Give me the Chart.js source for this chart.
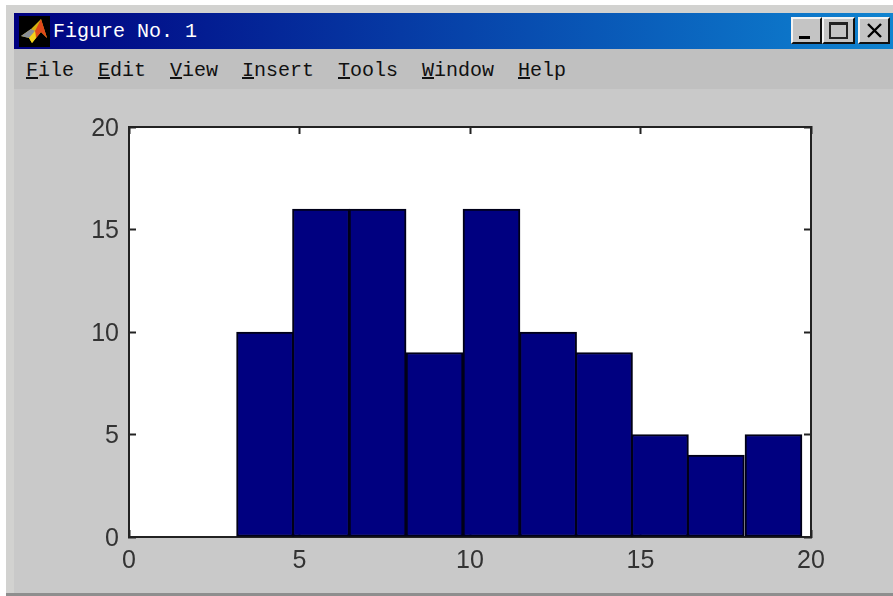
<!DOCTYPE html>
<html>
<head>
<meta charset="utf-8">
<script src="https://cdn.jsdelivr.net/npm/chart.js@4"></script>
<style>
html,body{margin:0;padding:0;background:#fff;overflow:hidden}
#win{position:absolute;left:0;top:0;width:893px;height:596px;overflow:hidden;background:#fff;filter:blur(.55px)}
#win div,#win svg,#win canvas{position:absolute}
#frame{left:6px;top:5px;width:887px;height:588px;background:#d2d2d0}
#bottom{left:6px;top:593px;width:887px;height:3px;background:#8e8e8e}
#fig{left:14px;top:89px;width:879px;height:504px;background:#c9c9c9}
#menu{left:14px;top:49px;width:879px;height:40px;background:#c0c0c0}
#title{left:14px;top:13px;width:879px;height:36px;background:linear-gradient(90deg,#000080 0%,#0c74c8 88%,#1084d0 100%)}
.t{font:bold 20px/24px "Liberation Mono",monospace;white-space:pre}
#ttext{left:53px;top:20px;color:#fff;font-weight:normal}
.m{top:59px;color:#111;font-weight:normal}
.b{top:17px;height:27px;background:#c4c4c4;box-sizing:border-box;border:2px solid;border-color:#f4f4f4 #111 #111 #f4f4f4}
#chart{left:0;top:0;width:893px;height:596px}
</style>
</head>
<body>
<div id="win">
  <div id="frame"></div>
  <div id="fig"></div>
  <div id="menu"></div>
  <div id="title"></div>
  <svg style="left:19px;top:16px" width="31" height="31" viewBox="0 0 31 31">
    <rect width="31" height="31" fill="#000"/>
    <polygon points="2,20 12,13 22,3 28,22 22,16 13,27 10,22" fill="#d4b010"/>
    <polygon points="2,20 12,13 16,15 10,22" fill="#8a8f98"/>
    <polygon points="16,15 22,3 28,22 22,16 17,22" fill="#e0481a"/>
    <polygon points="10,22 16,15 17,22 13,27" fill="#f2d21c"/>
  </svg>
  <div id="ttext" class="t">Figure No. 1</div>
  <div class="t m" style="left:26px"><u>F</u>ile</div>
  <div class="t m" style="left:98px"><u>E</u>dit</div>
  <div class="t m" style="left:170px"><u>V</u>iew</div>
  <div class="t m" style="left:242px"><u>I</u>nsert</div>
  <div class="t m" style="left:338px"><u>T</u>ools</div>
  <div class="t m" style="left:422px"><u>W</u>indow</div>
  <div class="t m" style="left:518px"><u>H</u>elp</div>
  <div class="b" style="left:791px;width:31px"></div>
  <div class="b" style="left:822px;width:33px"></div>
  <div class="b" style="left:858px;width:32px"></div>
  <div style="left:799px;top:36px;width:11px;height:3px;background:#000"></div>
  <div style="left:829px;top:22px;width:19px;height:17px;box-sizing:border-box;border:2px solid #222;border-top-width:3px"></div>
  <svg style="left:866px;top:23px" width="17" height="15"><path d="M2 1L15 14M15 1L2 14" stroke="#000" stroke-width="2.4"/></svg>
  <div id="bottom"></div>
  <canvas id="chart" width="893" height="596"></canvas>
</div>
<script>
const binCenters = [3.99, 5.63, 7.29, 8.96, 10.63, 12.29, 13.93, 15.57, 17.21, 18.90];
const counts = [10, 16, 16, 9, 16, 10, 9, 5, 4, 5];
const xTicks = [0, 5, 10, 15, 20];
const yTicks = [0, 5, 10, 15, 20];

const AXIS = '#222222';
const TEXT = '#333333';
const FONT = {family: '"Liberation Sans", Arial, sans-serif', size: 25};

function axis(position, ticks, showLabels, fitSize, pad, labelOffset) {
  const horizontal = position === 'top' || position === 'bottom';
  return {
    type: 'linear', position, min: 0, max: 20, offset: false,
    afterBuildTicks: s => { s.ticks = ticks.map(v => ({value: v})); },
    afterFit: s => { if (horizontal) s.height = fitSize; else s.width = fitSize; },
    border: {display: true, color: AXIS, width: 2},
    grid: {display: true, drawOnChartArea: false, drawTicks: true, tickLength: -7,
           tickColor: AXIS, tickWidth: 2, offset: false},
    ticks: {display: showLabels, color: TEXT, font: FONT, padding: pad, maxRotation: 0,
            autoSkip: false, includeBounds: true, labelOffset: labelOffset}
  };
}

const plotBackground = {
  id: 'plotBackground',
  beforeDraw(chart) {
    const a = chart.chartArea;
    chart.ctx.save();
    chart.ctx.fillStyle = '#ffffff';
    chart.ctx.fillRect(a.left, a.top, a.right - a.left, a.bottom - a.top);
    chart.ctx.restore();
  }
};

new Chart(document.getElementById('chart'), {
  type: 'bar',
  plugins: [plotBackground],
  data: {
    datasets: [{
      data: binCenters.map((x, i) => ({x, y: counts[i]})),
      backgroundColor: '#000080',
      borderColor: '#000018',
      borderWidth: 2,
      borderSkipped: false,
      barThickness: 57,
      grouped: false,
      xAxisID: 'x',
      yAxisID: 'y'
    }]
  },
  options: {
    responsive: false,
    animation: false,
    layout: {padding: 0},
    plugins: {legend: {display: false}, title: {display: false}, tooltip: {enabled: false}},
    scales: {
      x: axis('bottom', xTicks, true, 59, 16, 0),
      y: axis('left', yTicks, true, 129, 17, 2),
      x2: axis('top', xTicks, false, 127, 0, 0),
      y2: axis('right', yTicks, false, 82, 0, 0)
    }
  }
});
</script>
</body>
</html>
